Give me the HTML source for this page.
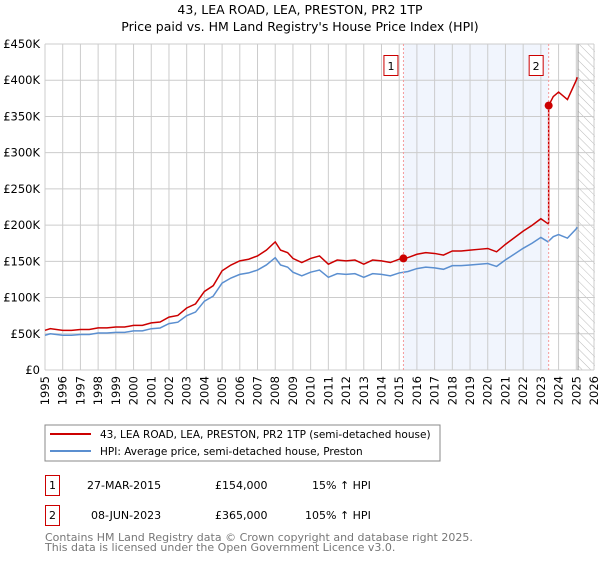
<!DOCTYPE html>
<html><head><meta charset="utf-8"><style>
body{margin:0;background:#fff;font-family:"DejaVu Sans","Liberation Sans",sans-serif;}
svg text{font-family:"DejaVu Sans","Liberation Sans",sans-serif;}
</style></head><body>
<svg id="chart" width="600" height="560" viewBox="0 0 600 560" xmlns="http://www.w3.org/2000/svg">
<defs><pattern id="hatch" patternUnits="userSpaceOnUse" width="6" height="6" patternTransform="rotate(-45)"><line x1="0" y1="0" x2="0" y2="6" stroke="#bbb" stroke-width="1"/></pattern></defs>
<text x="300" y="14" text-anchor="middle" font-size="12.5">43, LEA ROAD, LEA, PRESTON, PR2 1TP</text>
<text x="300" y="31" text-anchor="middle" font-size="12.5">Price paid vs. HM Land Registry's House Price Index (HPI)</text>
<g id="plot"></g>
<g>
<rect x="45" y="425" width="395" height="36" fill="#fff" stroke="#888"/>
<line x1="50" y1="434" x2="91" y2="434" stroke="#cc0000" stroke-width="2"/>
<text x="100" y="438" font-size="10.5">43, LEA ROAD, LEA, PRESTON, PR2 1TP (semi-detached house)</text>
<line x1="50" y1="451" x2="91" y2="451" stroke="#5b8fd0" stroke-width="2"/>
<text x="100" y="455" font-size="10.5">HPI: Average price, semi-detached house, Preston</text>
</g>
<g font-size="11">
<rect x="45.5" y="475.5" width="14" height="20" fill="#fff" stroke="#cc0000"/>
<text x="52.5" y="489" text-anchor="middle">1</text>
<text x="87" y="489">27-MAR-2015</text><text x="215" y="489">£154,000</text><text x="312" y="489">15% ↑ HPI</text>
<rect x="45.5" y="505.5" width="14" height="20" fill="#fff" stroke="#cc0000"/>
<text x="52.5" y="519" text-anchor="middle">2</text>
<text x="91" y="519">08-JUN-2023</text><text x="215" y="519">£365,000</text><text x="305" y="519">105% ↑ HPI</text>
</g>
<g font-size="11" fill="#777">
<text x="45" y="541">Contains HM Land Registry data © Crown copyright and database right 2025.</text>
<text x="45" y="551">This data is licensed under the Open Government Licence v3.0.</text>
</g>
</svg>
<script>
const hpiYears=[1995,1995.3,1996,1996.5,1997,1997.5,1998,1998.5,1999,1999.5,2000,2000.5,2001,2001.5,2002,2002.5,2003,2003.5,2004,2004.5,2005,2005.5,2006,2006.5,2007,2007.5,2008,2008.3,2008.7,2009,2009.5,2010,2010.5,2011,2011.5,2012,2012.5,2013,2013.5,2014,2014.5,2015,2015.5,2016,2016.5,2017,2017.5,2018,2018.5,2019,2019.5,2020,2020.5,2021,2021.5,2022,2022.5,2023,2023.4,2023.7,2024,2024.5,2025,2025.05];
const hpiValues=[48,50,48,48,49,49,51,51,52,52,54,54,57,58,64,66,75,80,95,102,120,127,132,134,138,145,155,145,142,135,130,135,138,128,133,132,133,128,133,132,130,134,136,140,142,141,139,144,144,145,146,147,143,152,160,168,175,183,177,184,187,182,195,197];
const saleYears=[2015.24,2023.44];
const salePrices=[154,365];
const saleLabels=["1","2"];
const yTicks=[0,50,100,150,200,250,300,350,400,450];
const yTickLabels=["£0","£50K","£100K","£150K","£200K","£250K","£300K","£350K","£400K","£450K"];
const xTicks=[1995,1996,1997,1998,1999,2000,2001,2002,2003,2004,2005,2006,2007,2008,2009,2010,2011,2012,2013,2014,2015,2016,2017,2018,2019,2020,2021,2022,2023,2024,2025,2026];

const X0=45,X1=594,Y0=370,Y1=44;
const xs=y=>X0+(y-1995)/(2026-1995)*(X1-X0);
const ys=v=>Y0-v/450*(Y0-Y1);
const NS="http://www.w3.org/2000/svg";
const g=document.getElementById('plot');
function mk(t,a,p){const e=document.createElementNS(NS,t);for(const k in a)e.setAttribute(k,a[k]);(p||g).appendChild(e);return e;}
function hpiAt(t){for(let i=0;i<hpiYears.length-1;i++){if(t<=hpiYears[i+1]){const f=(t-hpiYears[i])/(hpiYears[i+1]-hpiYears[i]);return hpiValues[i]+f*(hpiValues[i+1]-hpiValues[i]);}}return hpiValues[hpiValues.length-1];}

let e=mk('rect',{x:xs(saleYears[0]),y:Y1,width:xs(saleYears[1])-xs(saleYears[0]),height:Y0-Y1,fill:'#eef3fc',opacity:0.8});

e=mk('rect',{x:xs(2025.1),y:Y1,width:X1+1-xs(2025.1),height:Y0-Y1,fill:'url(#hatch)'});

yTicks.forEach((v,i)=>{let l=mk('line',{x1:X0,x2:X1,y1:ys(v),y2:ys(v),stroke:'#ccc'});

let t=mk('text',{x:X0-5,y:ys(v)+4,'text-anchor':'end','font-size':'11.5'});t.textContent=yTickLabels[i];
});
xTicks.forEach(y=>{let l=mk('line',{x1:xs(y),x2:xs(y),y1:Y1,y2:Y0,stroke:'#ccc'});

let t=mk('text',{x:0,y:0,'text-anchor':'end','font-size':'11.5',transform:`translate(${xs(y)+4},${Y0+6}) rotate(-90)`});t.textContent=y;
});
e=mk('line',{x1:xs(2025.1),x2:xs(2025.1),y1:Y1,y2:Y0,stroke:'#999'});

e=mk('polyline',{points:hpiYears.map((y,i)=>xs(y)+','+ys(hpiValues[i])).join(' '),fill:'none',stroke:'#5b8fd0','stroke-width':1.5});

let pts=[];
hpiYears.forEach((y,i)=>{
 let k=y<saleYears[1]?0:1;
 if(i>0&&hpiYears[i-1]<saleYears[1]&&y>=saleYears[1]){const h=hpiAt(saleYears[1]);pts.push([saleYears[1],salePrices[0]*h/hpiAt(saleYears[0])]);pts.push([saleYears[1],salePrices[1]]);}
 pts.push([y,salePrices[k]*hpiValues[i]/hpiAt(saleYears[k])]);});
e=mk('polyline',{points:pts.map(p=>xs(p[0])+','+ys(p[1])).join(' '),fill:'none',stroke:'#cc0000','stroke-width':1.5});

saleYears.forEach((y,i)=>{
 let l=mk('line',{x1:xs(y),x2:xs(y),y1:Y1,y2:Y0,stroke:'#f59a9a','stroke-dasharray':'2,2'});
 
 let c=mk('circle',{cx:xs(y),cy:ys(salePrices[i]),r:4,fill:'#cc0000'});
 
 let r=mk('rect',{x:xs(y)-19.5,y:55.5,width:14,height:20,fill:'#fff',stroke:'#cc0000'});
 
 let t=mk('text',{x:xs(y)-12.5,y:70,'text-anchor':'middle','font-size':'11'});t.textContent=saleLabels[i];
 });
</script>
</body></html>
